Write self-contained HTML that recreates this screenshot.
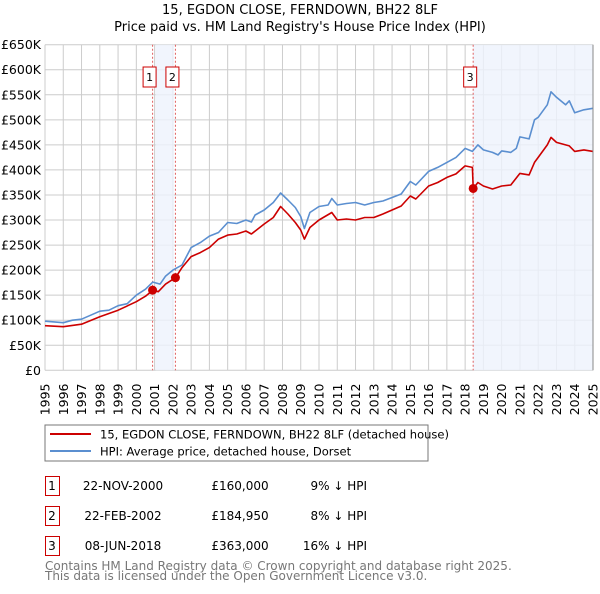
<!DOCTYPE html>
<html><head><meta charset="utf-8"><style>
body{margin:0;background:#fff;width:600px;height:590px;overflow:hidden;font-family:"DejaVu Sans","Liberation Sans",sans-serif;}
svg text{font-family:"DejaVu Sans","Liberation Sans",sans-serif;}
</style></head><body>
<svg id="chart" width="600" height="590">
<text x="300" y="14" text-anchor="middle" font-size="13">15, EGDON CLOSE, FERNDOWN, BH22 8LF</text>
<text x="300" y="31" text-anchor="middle" font-size="13">Price paid vs. HM Land Registry's House Price Index (HPI)</text>
<g id="grid"></g><g id="shade"></g><g id="series"></g><g id="axes"></g>
<rect x="45" y="425" width="383" height="36" fill="none" stroke="#777"/>
<line x1="50" y1="434" x2="91" y2="434" stroke="#cc0000" stroke-width="2"/>
<text x="100" y="438.5" font-size="11.5">15, EGDON CLOSE, FERNDOWN, BH22 8LF (detached house)</text>
<line x1="50" y1="451" x2="91" y2="451" stroke="#5b8fd0" stroke-width="2"/>
<text x="100" y="455.5" font-size="11.5">HPI: Average price, detached house, Dorset</text>
<g id="table" font-size="12"></g>
<text x="45" y="570" font-size="12" fill="#777">Contains HM Land Registry data © Crown copyright and database right 2025.</text>
<text x="45" y="580" font-size="12" fill="#777">This data is licensed under the Open Government Licence v3.0.</text>
</svg>
<script>
const hpiYears=[1995,1996,1996.5,1997,1997.5,1998,1998.5,1999,1999.5,2000,2000.5,2000.9,2001.3,2001.6,2002,2002.5,2003,2003.5,2004,2004.5,2005,2005.5,2006,2006.3,2006.5,2007,2007.5,2007.9,2008.3,2008.7,2009,2009.2,2009.5,2010,2010.5,2010.7,2011,2011.5,2012,2012.5,2013,2013.5,2014,2014.5,2015,2015.3,2016,2016.5,2017,2017.5,2018,2018.4,2018.7,2019,2019.5,2019.8,2020,2020.5,2020.8,2021,2021.5,2021.8,2022,2022.5,2022.7,2023,2023.5,2023.7,2024,2024.5,2025];
const hpiValues=[98,95,100,102,110,118,120,129,133,150,162,176,172,188,200,210,245,255,268,275,295,293,300,296,310,320,335,354,340,325,307,283,315,327,330,343,330,333,335,330,335,338,345,352,377,370,397,405,415,425,443,437,450,440,435,430,438,435,443,466,462,500,505,530,556,545,530,538,514,520,523];
const propYears=[1995,1996,1997,1998,1999,2000,2000.5,2000.9,2001.2,2001.6,2002.15,2002.5,2003,2003.5,2004,2004.5,2005,2005.5,2006,2006.3,2007,2007.5,2007.9,2008.3,2008.7,2009,2009.2,2009.5,2010,2010.7,2011,2011.5,2012,2012.5,2013,2013.5,2014,2014.5,2015,2015.3,2016,2016.5,2017,2017.5,2018,2018.4,2018.44,2018.7,2019,2019.5,2020,2020.5,2021,2021.5,2021.8,2022,2022.5,2022.7,2023,2023.5,2023.7,2024,2024.5,2025];
const propValues=[89,87,92,107,120,137,148,160,157,172,185,205,227,235,245,262,270,272,278,272,292,305,327,312,295,280,262,285,300,315,300,302,300,305,305,312,320,328,348,342,368,375,385,392,408,405,363,375,368,362,368,370,393,390,415,425,450,465,455,450,448,437,440,437];
const saleYears=[2000.89,2002.14,2018.44];
const saleValues=[160,184.95,363];
const saleLabels=["1","2","3"];
const saleDates=["22-NOV-2000","22-FEB-2002","08-JUN-2018"];
const salePrices=["£160,000","£184,950","£363,000"];
const saleDiffs=["9% ↓ HPI","8% ↓ HPI","16% ↓ HPI"];
const yTicks=[0,50,100,150,200,250,300,350,400,450,500,550,600,650];
const yTickLabels=["£0","£50K","£100K","£150K","£200K","£250K","£300K","£350K","£400K","£450K","£500K","£550K","£600K","£650K"];
const xTicks=[1995,1996,1997,1998,1999,2000,2001,2002,2003,2004,2005,2006,2007,2008,2009,2010,2011,2012,2013,2014,2015,2016,2017,2018,2019,2020,2021,2022,2023,2024,2025];
const L=45,R=593,T=44.7,B=370.3;
const X=y=>L+(y-1995)/30*(R-L);
const Y=v=>B-v/650*(B-T);
const NS="http://www.w3.org/2000/svg";
function mk(parent,tag,attrs){const e=document.createElementNS(NS,tag);for(const k in attrs)e.setAttribute(k,attrs[k]);document.getElementById(parent).appendChild(e);return e;}
// shading
let e=mk('shade','rect',{x:X(2001.05),y:T,width:X(2002.07)-X(2001.05),height:B-T,fill:'#eef3fd',opacity:0.8});


e=mk('shade','rect',{x:X(saleYears[2]),y:T,width:R-X(saleYears[2]),height:B-T,fill:'#eef3fd',opacity:0.8});


// grid
yTicks.forEach((v,i)=>{
 e=mk('grid','line',{x1:L,x2:R,y1:Y(v),y2:Y(v),stroke:'#ccc'});
 
 
 e=mk('axes','text',{x:L-4,y:Y(v)+4.5,'text-anchor':'end','font-size':'12.5'});
 e.textContent=yTickLabels[i];
 
 
});
xTicks.forEach(y=>{
 e=mk('grid','line',{x1:X(y),x2:X(y),y1:T,y2:B,stroke:'#ccc'});
 
 
 e=mk('axes','text',{x:0,y:0,'font-size':'12.5',transform:`translate(${X(y)+4.5},${B+45}) rotate(-90)`});
 e.textContent=y;
 
 
});
e=mk('axes','line',{x1:R,x2:R,y1:T,y2:B,stroke:'#888'});


// sale lines
saleYears.forEach((y,i)=>{
 e=mk('series','line',{x1:X(y),x2:X(y),y1:T,y2:B,stroke:'#e06060','stroke-dasharray':'2,2','stroke-width':1});
 
 
 const bx=X(y)-16+(i==1?-8:0)+(i==1?20:0);
 const cx=i==0?X(y)-3:(i==1?X(y)-3:X(y)-3);
 e=mk('series','rect',{x:cx-6.5,y:67,width:13,height:20,fill:'#fff',stroke:'#c00'});
 
 
 e=mk('series','text',{x:cx,y:81,'text-anchor':'middle','font-size':'11'});
 e.textContent=saleLabels[i];
 
 
});
function line(xs,vs,col,name){
 const p=xs.map((y,i)=>(i?'L':'M')+X(y).toFixed(1)+','+Y(vs[i]).toFixed(1)).join('');
 e=mk('series','path',{d:p,fill:'none',stroke:col,'stroke-width':1.6,'stroke-linejoin':'round'});
 
 
}
line(hpiYears,hpiValues,'#5b8fd0','hpi-line');
line(propYears,propValues,'#cc0000','property-price-line');
saleYears.forEach((y,i)=>{
 e=mk('series','circle',{cx:X(y),cy:Y(saleValues[i]),r:4.5,fill:'#cc0000'});
 
 
});
// table
saleLabels.forEach((s,i)=>{
 const ty=476+i*30;
 e=mk('table','rect',{x:45.5,y:ty+0.5,width:14,height:19,fill:'#fff',stroke:'#c00'});
 
 
 const cells=[[52,s,'middle'],[123,saleDates[i],'middle'],[240,salePrices[i],'middle'],[367,saleDiffs[i],'end']];
 cells.forEach((c,j)=>{
  e=mk('table','text',{x:c[0],y:ty+14,'text-anchor':c[2]});
  e.textContent=c[1];
  
  
 });
});
</script>
</body></html>
